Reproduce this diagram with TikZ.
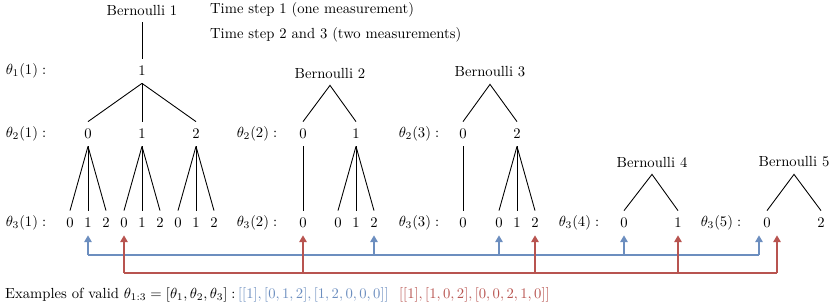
\documentclass[tikz,border=0pt]{standalone}
\usepackage{amsmath}
\usepackage{xcolor}
\usetikzlibrary{positioning, calc, arrows.meta}
\definecolor{pickblue}{HTML}{6C8EBF}
\definecolor{pickred}{HTML}{B85450}
\tikzset{
  val/.style={inner sep=0pt, minimum height=5.8mm},
  branch/.style={line width=0.6pt},
  pickB/.style={pickblue, line width=0.8pt},
  pickR/.style={pickred, line width=0.8pt},
  tip/.style={-{Triangle[length=1.6mm, width=1.8mm]}}
}

\begin{document}
\begin{tikzpicture}[x=0.24mm, y=-0.24mm]
        \useasboundingbox (0,0) rectangle (830,305);

        % Time step notes
        \node[anchor=west] (ts1) at (205,10) {Time step 1 (one measurement)};
        \node[anchor=west] (ts2) at (205,35) {Time step 2 and 3 (two measurements)};

        % Row labels
        \node (l11) at (26,71) {$\theta_1(1):$};
        \node (l21) at (26,134) {$\theta_2(1):$};
        \node (l22) at (257,134) {$\theta_2(2):$};
        \node (l23) at (419,134) {$\theta_2(3):$};
        \node (l31) at (26,223) {$\theta_3(1):$};
        \node (l32) at (257,223) {$\theta_3(2):$};
        \node (l33) at (419,223) {$\theta_3(3):$};
        \node (l34) at (579,223) {$\theta_3(4):$};
        \node (l35) at (721,223) {$\theta_3(5):$};

        % Bernoulli 1 and first level
        \node[val] (b1) at (142,10) {Bernoulli 1};
        \node[val] (r1) at (142,71) {1};
        \draw[branch] (b1.south) -- (r1.north);

        % Second level under theta_1(1)
        \node[val] (s10) at (88,134) {0};
        \node[val] (s11) at (142,134) {1};
        \node[val] (s12) at (196,134) {2};
        \foreach \p in {0,1,2}
            \draw[branch] (r1.south) -- (s1\p.north);

        % Third level under theta_2(1)
        \foreach \p in {0,1,2}
            \foreach \c in {0,1,2} {
                \node[val] (u1\p\c) at ({70+54*\p+18*\c},223) {\c};
                \draw[branch] (s1\p.south) -- (u1\p\c.north);
            }

        % Bernoulli 2
        \node[val] (b2) at (330,73) {Bernoulli 2};
        \node[val] (s20) at (303,134) {0};
        \node[val] (s21) at (356,134) {1};
        \draw[branch] (s20.north) -- (b2.south) -- (s21.north);
        \node[val] (u200) at (303,223) {0};
        \draw[branch] (s20.south) -- (u200.north);
        \foreach \c in {0,1,2} {
            \node[val] (u21\c) at ({338+18*\c},223) {\c};
            \draw[branch] (s21.south) -- (u21\c.north);
        }

        % Bernoulli 3
        \node[val] (b3) at (490,72) {Bernoulli 3};
        \node[val] (s30) at (463,134) {0};
        \node[val] (s32) at (517,134) {2};
        \draw[branch] (s30.north) -- (b3.south) -- (s32.north);
        \node[val] (u300) at (463,223) {0};
        \draw[branch] (s30.south) -- (u300.north);
        \foreach \c in {0,1,2} {
            \node[val] (u32\c) at ({499+18*\c},223) {\c};
            \draw[branch] (s32.south) -- (u32\c.north);
        }

        % Bernoulli 4 and 5
        \node[val] (b4) at (652,162) {Bernoulli 4};
        \node[val] (u40) at (624,223) {0};
        \node[val] (u41) at (678,223) {1};
        \draw[branch] (u40.north) -- (b4.south) -- (u41.north);
        \node[val] (b5) at (794,162) {Bernoulli 5};
        \node[val] (u50) at (767,223) {0};
        \node[val] (u52) at (821,223) {2};
        \draw[branch] (u50.north) -- (b5.south) -- (u52.north);

        % Picked leaves
        \coordinate (bl) at (0,255);
        \coordinate (rl) at (0,273);
        \coordinate (u50b) at ($(u50.south)+(-8,0)$);
        \coordinate (u50r) at ($(u50.south)+(10,0)$);

        \draw[pickB] (u101.south |- bl) -- (u50b |- bl);
        \foreach \n in {u101,u212,u320,u40,u50b}
            \draw[pickB, tip] (\n |- bl) -- (\n.south);

        \draw[pickR] (u110.south |- rl) -- (u50r |- rl);
        \foreach \n in {u110,u200,u322,u41,u50r}
            \draw[pickR, tip] (\n |- rl) -- (\n.south);

        % Examples line
        \node[anchor=base west] (ex) at (0,298) {Examples of valid $\theta_{1:3} = [\theta_1, \theta_2, \theta_3] :$};
        \node[anchor=base west, text=pickblue] (exB) at (233,298) {$[[1], [0, 1, 2], [1, 2, 0, 0, 0]]$};
        \node[anchor=base west, text=pickred] (exR) at (394,298) {$[[1], [1, 0, 2], [0, 0, 2, 1, 0]]$};

    \end{tikzpicture}
\end{document}
